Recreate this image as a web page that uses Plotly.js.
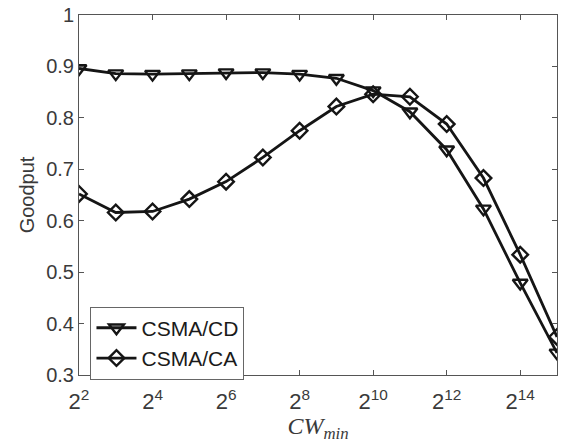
<!DOCTYPE html>
<html>
<head>
<meta charset="utf-8">
<script src="https://cdn.plot.ly/plotly-3.0.1.min.js"></script>
<style>html,body{margin:0;padding:0;background:#fff;}#chart{width:562px;height:443px;}</style>
</head>
<body>
<div id="chart"></div>
<script>
var cwMin = [4, 8, 16, 32, 64, 128, 256, 512, 1024, 2048, 4096, 8192, 16384, 32768];
var csmaCD = [0.896, 0.886, 0.885, 0.886, 0.888, 0.888, 0.885, 0.877, 0.853, 0.812, 0.738, 0.623, 0.479, 0.343];
var csmaCA = [0.652, 0.616, 0.618, 0.642, 0.676, 0.723, 0.775, 0.822, 0.846, 0.841, 0.788, 0.683, 0.534, 0.374];
var xTickVals = [4, 16, 64, 256, 1024, 4096, 16384];
var xTickText = ['2<sup>2</sup>', '2<sup>4</sup>', '2<sup>6</sup>', '2<sup>8</sup>', '2<sup>10</sup>', '2<sup>12</sup>', '2<sup>14</sup>'];
var yTickVals = [0.3, 0.4, 0.5, 0.6, 0.7, 0.8, 0.9, 1];
var yTickText = ['0.3', '0.4', '0.5', '0.6', '0.7', '0.8', '0.9', '1'];

var lineColor = '#151515';
var traces = [
  {x: cwMin, y: csmaCD, name: 'CSMA/CD', type: 'scatter', mode: 'lines+markers',
   line: {color: lineColor, width: 2.8},
   marker: {symbol: 'triangle-down-open', size: 13, color: lineColor, line: {width: 2.4, color: lineColor}}},
  {x: cwMin, y: csmaCA, name: 'CSMA/CA', type: 'scatter', mode: 'lines+markers',
   line: {color: lineColor, width: 2.8},
   marker: {symbol: 'diamond-open', size: 12, color: lineColor, line: {width: 2.4, color: lineColor}}}
];

var axisColor = '#555555';
var layout = {
  width: 562, height: 443,
  margin: {l: 78.5, r: 5, t: 15, b: 67.5},
  paper_bgcolor: '#ffffff', plot_bgcolor: '#ffffff',
  font: {family: 'Liberation Sans, Arial, sans-serif', size: 20, color: '#3a3a3a'},
  showlegend: true,
  legend: {x: 0.024, y: 0.19, xanchor: 'left', yanchor: 'top',
           bgcolor: '#ffffff', bordercolor: '#666666', borderwidth: 1,
           font: {size: 21, color: '#1a1a1a'}, itemwidth: 40, tracegroupgap: 0},
  xaxis: {
    type: 'log', range: [Math.log10(4), Math.log10(32768)],
    tickvals: xTickVals, ticktext: xTickText,
    ticks: 'inside', ticklen: 5, tickcolor: axisColor, tickwidth: 1,
    showline: true, linecolor: axisColor, linewidth: 1, mirror: 'ticks',
    showgrid: false, zeroline: false, ticklabelstandoff: 7,
    tickfont: {size: 22, color: '#3a3a3a'},
    title: {text: '<i>CW</i><sub><i>min</i></sub>', font: {family: 'Liberation Serif, DejaVu Serif, serif', size: 24, color: '#3a3a3a'}, standoff: 6}
  },
  yaxis: {
    range: [0.3, 1],
    tickvals: yTickVals, ticktext: yTickText,
    ticks: 'inside', ticklen: 5, tickcolor: axisColor, tickwidth: 1,
    showline: true, linecolor: axisColor, linewidth: 1, mirror: 'ticks',
    showgrid: false, zeroline: false,
    tickfont: {size: 20, color: '#3a3a3a'},
    title: {text: 'Goodput', font: {size: 20, color: '#3a3a3a'}, standoff: 6}
  }
};

Plotly.newPlot('chart', traces, layout, {displayModeBar: false, staticPlot: true});
</script>
</body>
</html>
